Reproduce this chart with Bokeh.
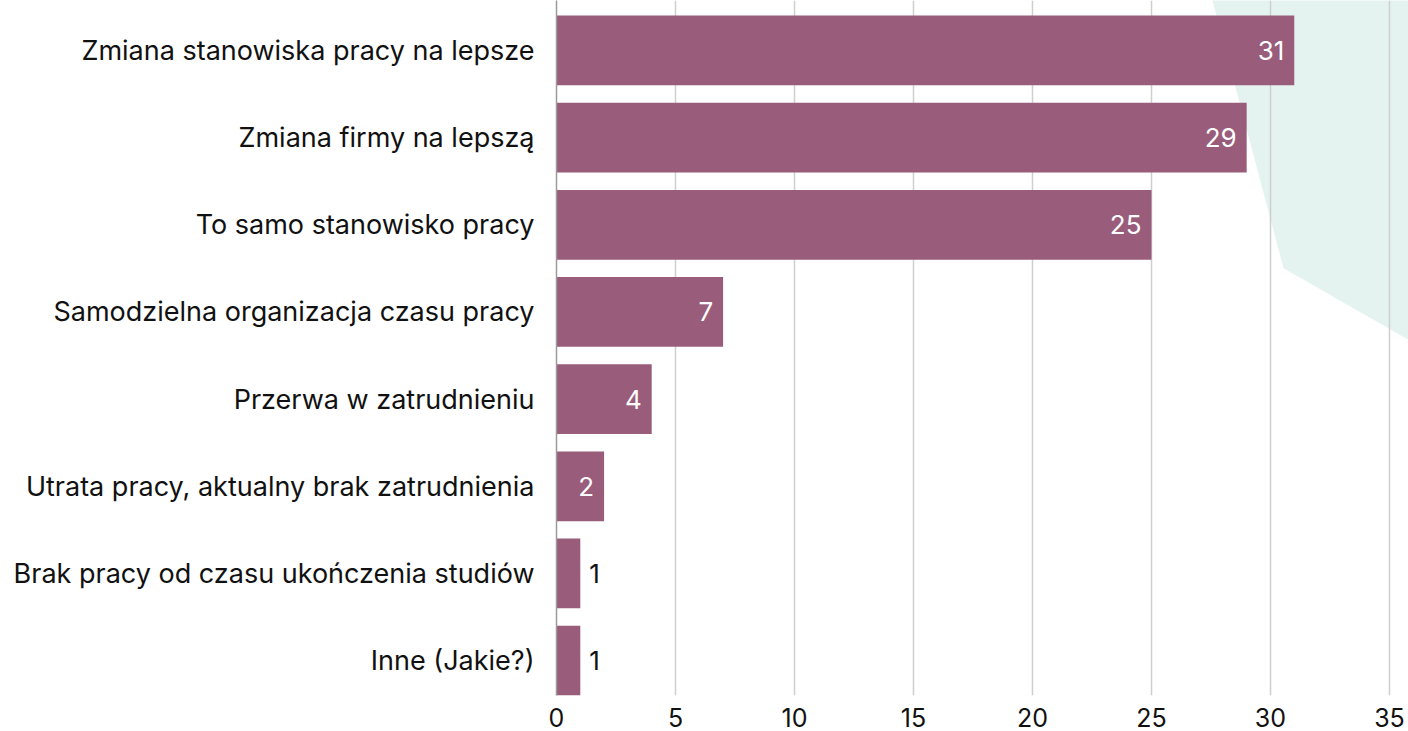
from bokeh.plotting import figure
from bokeh.models import ColumnDataSource, Range1d, FixedTicker
from bokeh.embed import file_html
from bokeh.resources import INLINE
from bokeh.core.properties import value

categories = [
    "Zmiana stanowiska pracy na lepsze",
    "Zmiana firmy na lepszą",
    "To samo stanowisko pracy",
    "Samodzielna organizacja czasu pracy",
    "Przerwa w zatrudnieniu",
    "Utrata pracy, aktualny brak zatrudnienia",
    "Brak pracy od czasu ukończenia studiów",
    "Inne (Jakie?)",
]
values = [31, 29, 25, 7, 4, 2, 1, 1]
x_ticks = [0, 5, 10, 15, 20, 25, 30, 35]

FONT = "Inter"
FS = "27px"
BAR = "#995C7A"

pos = list(range(len(categories)))
inside = [v > 1 for v in values]

src_in = ColumnDataSource(dict(
    y=[p_ for p_, i in zip(pos, inside) if i],
    v=[v for v, i in zip(values, inside) if i],
    t=[str(v) for v, i in zip(values, inside) if i],
))
src_out = ColumnDataSource(dict(
    y=[p_ for p_, i in zip(pos, inside) if not i],
    v=[v for v, i in zip(values, inside) if not i],
    t=[str(v) for v, i in zip(values, inside) if not i],
))
src = ColumnDataSource(dict(y=pos, v=values))

p = figure(width=1408, height=731, output_backend="svg", toolbar_location=None,
           x_range=Range1d(0, 35.8), y_range=Range1d(7.40, -0.573),
           min_border_left=556, min_border_right=0, min_border_top=0,
           min_border_bottom=36)
p.outline_line_color = None
p.background_fill_color = "white"
p.border_fill_color = "white"

# decorative background shape
bg1 = p.patch([27.44, 30.55, 37.6, 37.6], [-0.7, 2.50, 3.60, -0.7],
              fill_color="#e4f3f0", line_color=None)
bg1.level = "image"

p.hbar(y="y", right="v", left=0, height=0.8, source=src,
       fill_color=BAR, line_color=None)

p.text(x="v", y="y", text="t", source=src_in, x_offset=-10,
       text_align="right", text_baseline="middle", text_color="white",
       text_font=value(FONT), text_font_size="26px")
p.text(x="v", y="y", text="t", source=src_out, x_offset=9,
       text_align="left", text_baseline="middle", text_color="#111111",
       text_font=value(FONT), text_font_size="26px")

p.yaxis.ticker = FixedTicker(ticks=pos)
p.yaxis.major_label_overrides = {i: c for i, c in zip(pos, categories)}
p.yaxis.major_tick_line_color = None
p.yaxis.minor_tick_line_color = None
p.yaxis.axis_line_color = "#9a9a9a"
p.yaxis.axis_line_width = 1.5
p.yaxis.major_label_standoff = 16
p.yaxis.major_label_text_font = FONT
p.yaxis.major_label_text_font_size = FS
p.yaxis.major_label_text_color = "#111111"

p.xaxis.ticker = FixedTicker(ticks=x_ticks)
p.xaxis.major_tick_line_color = None
p.xaxis.minor_tick_line_color = None
p.xaxis.axis_line_color = None
p.xaxis.major_label_standoff = 6
p.xaxis.major_label_text_font = FONT
p.xaxis.major_label_text_font_size = "25px"
p.xaxis.major_label_text_color = "#111111"

p.ygrid.grid_line_color = None
p.xgrid.grid_line_color = "#cfcfcf"
p.xgrid.grid_line_width = 1.5

open("out.html", "w").write(file_html(p, INLINE))
